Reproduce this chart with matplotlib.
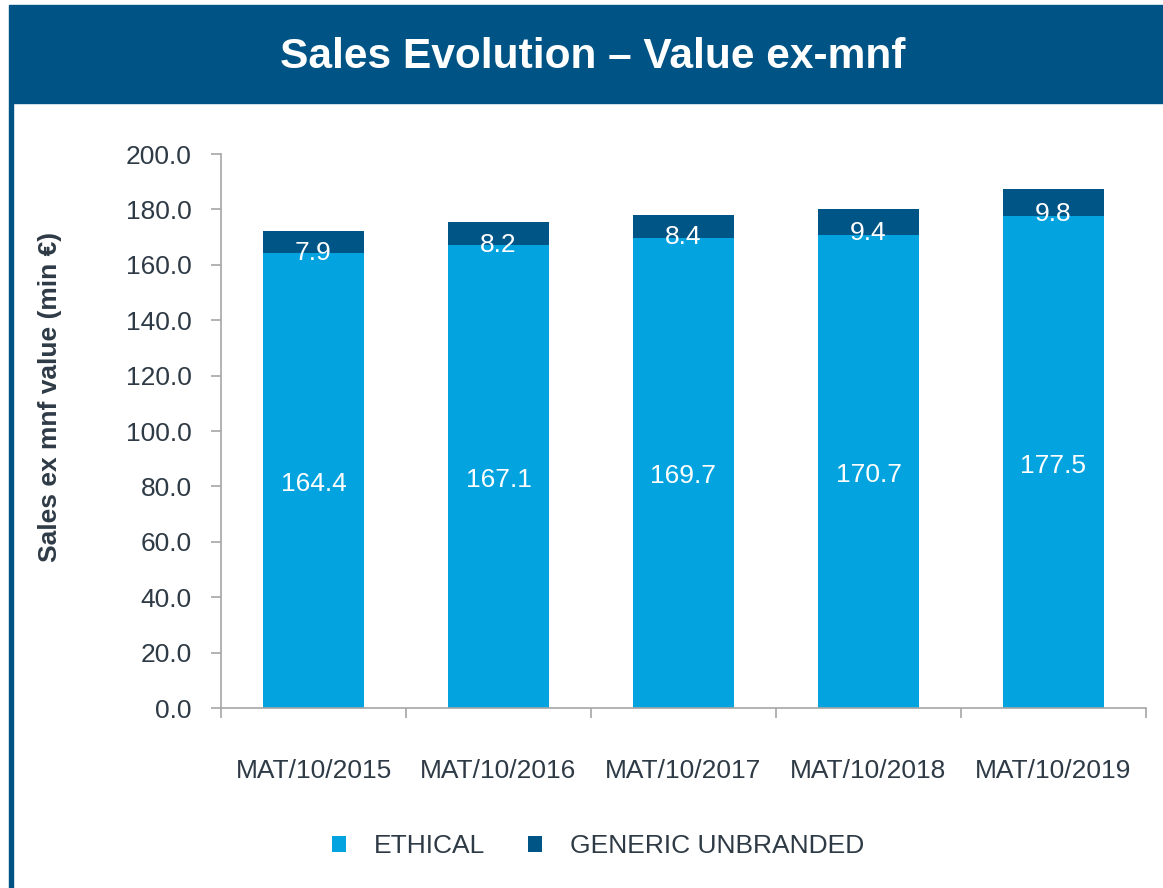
import matplotlib
matplotlib.use("Agg")
import matplotlib.pyplot as plt
from matplotlib.patches import Rectangle
import numpy as np

categories = ["MAT/10/2015", "MAT/10/2016", "MAT/10/2017", "MAT/10/2018", "MAT/10/2019"]
ethical = [164.4, 167.1, 169.7, 170.7, 177.5]
generic = [7.9, 8.2, 8.4, 9.4, 9.8]
series_names = ["ETHICAL", "GENERIC UNBRANDED"]
title = "Sales Evolution \u2013 Value ex-mnf"
ylabel = "Sales ex mnf value (min \u20ac)"

C_ETH = "#02A3DF"
C_GEN = "#005587"
C_BANNER = "#005485"
C_TEXT = "#2E3B46"
C_AXIS = "#A6A6A6"

plt.rcParams['font.family'] = ['Liberation Sans', 'DejaVu Sans']

W, H = 1163, 888
fig = plt.figure(figsize=(W / 100, H / 100), dpi=100)

# Banner and left border
fig.patches.append(Rectangle((9 / W, 1 - 103 / H), 1 - 9 / W, 98 / H,
                             transform=fig.transFigure, color=C_BANNER, zorder=0))
fig.patches.append(Rectangle((9 / W, 0), 4 / W, 1 - 103 / H,
                             transform=fig.transFigure, color=C_BANNER, zorder=0))
fig.text(593 / W, 1 - 57 / H, title, color="white", fontsize=30.6, fontweight="bold",
         ha="center", va="center")

ax = fig.add_axes([221 / W, 1 - 708 / H, (1146 - 221) / W, (708 - 154) / H])
x = np.arange(len(categories))
bw = 0.55
ax.bar(x, ethical, bw, color=C_ETH, label=series_names[0], zorder=2)
ax.bar(x, generic, bw, bottom=ethical, color=C_GEN, label=series_names[1], zorder=2)

FS = 19
for xi, e, g in zip(x, ethical, generic):
    ax.annotate(f"{e:.1f}", (xi, e / 2), xytext=(0, -2.5), textcoords="offset points",
                color="white", fontsize=FS, ha="center", va="center")
    ax.annotate(f"{g:.1f}", (xi, e + g / 2), xytext=(0, -8), textcoords="offset points",
                color="white", fontsize=FS, ha="center", va="center")

ax.set_xlim(-0.5, len(categories) - 0.5)
ax.set_ylim(0, 200)
ax.set_yticks(np.arange(0, 201, 20))
ax.set_yticklabels([f"{v:.1f}" for v in np.arange(0, 201, 20)])
ax.set_xticks(np.arange(-0.5, len(categories), 1.0))
ax.set_xticklabels([])
ax.set_xticks(x, minor=True)
ax.set_xticklabels(categories, minor=True)
ax.tick_params(axis="x", which="minor", length=0, pad=37, labelsize=FS, labelcolor=C_TEXT)
ax.tick_params(axis="x", which="major", length=7, width=1.2, color=C_AXIS, direction="out")
ax.tick_params(axis="y", length=7, width=1.2, color=C_AXIS, labelsize=FS, labelcolor=C_TEXT, pad=14)
for s in ["top", "right"]:
    ax.spines[s].set_visible(False)
for s in ["left", "bottom"]:
    ax.spines[s].set_color(C_AXIS)
    ax.spines[s].set_linewidth(1.2)

fig.text(50 / W, 1 - 397 / H, ylabel, rotation=90, fontsize=19, fontweight="bold",
         color=C_TEXT, ha="center", va="center")

handles, labels = ax.get_legend_handles_labels()
leg = fig.legend(handles, labels, loc="center", bbox_to_anchor=(598 / W, 1 - 846 / H),
                 ncol=2, frameon=False, fontsize=FS, handlelength=0.55, handleheight=0.55,
                 handletextpad=1.05, columnspacing=1.6, labelcolor=C_TEXT)

fig.savefig("out.png", dpi=100)
